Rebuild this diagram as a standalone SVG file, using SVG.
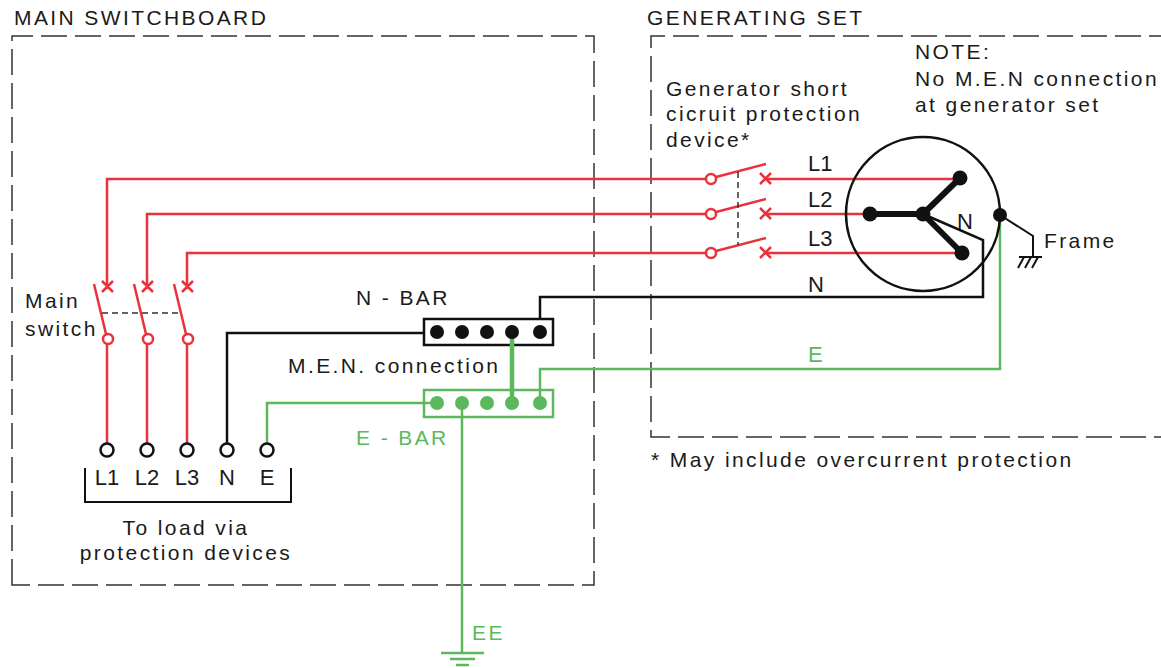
<svg xmlns="http://www.w3.org/2000/svg" width="1161" height="668" viewBox="0 0 1161 668">
<style>
text{font-family:"Liberation Sans",Arial,sans-serif;font-size:21px;letter-spacing:2.4px;fill:#1a1a1a}
.g{fill:#5cb85c}
.n{letter-spacing:0;font-size:22px}
.box{fill:none;stroke:#333;stroke-width:1.5;stroke-dasharray:26 8}
.r{fill:none;stroke:#e8323c;stroke-width:2.5}
.k{fill:none;stroke:#111;stroke-width:2.5}
.gr{fill:none;stroke:#5cb85c;stroke-width:2.5}
.oc{fill:#fff;stroke:#e8323c;stroke-width:2.5}
.tc{fill:#fff;stroke:#111;stroke-width:2.5}
.dash{fill:none;stroke:#333;stroke-width:1.5;stroke-dasharray:6 4}
</style>
<rect width="1161" height="668" fill="#fff"/>
<g id="main-switchboard">
<path class="box" d="M12 585 V36 H594 V585 Z"/>
<text x="14" y="25">MAIN SWITCHBOARD</text>
</g>
<g id="generating-set">
<path class="box" d="M1175 36 H651 V437 H1175"/>
<text x="647" y="25">GENERATING SET</text>
<text x="915" y="59">NOTE:</text>
<text x="915" y="86">No M.E.N connection</text>
<text x="915" y="112">at generator set</text>
</g>
<g id="connectors">
<path class="r" d="M107 287 V179 H706"/>
<path class="r" d="M147 287 V214 H706"/>
<path class="r" d="M187 287 V253 H706"/>
<path class="r" d="M107 344 V444 M147 344 V444 M187 344 V444"/>
<path class="r" d="M765 179 H960 M765 214 H870 M765 253 H962"/>
<path class="k" d="M227 444 V333 H437"/>
<path class="k" d="M540 332 V297 H983 V240 L923 214"/>
<path class="gr" d="M267 444 V403 H437"/>
<path class="gr" d="M540 403 V369 H1000 V215"/>
<path class="gr" d="M462 403 V653"/>
<path class="gr" d="M441 653 H484 M450 659 H475 M456 665 H469"/>
<path class="k" style="stroke-width:2" d="M1000 215 L1033 236 V257 M1019 257 H1042 M1024 257 L1018 268 M1031 257 L1025 268 M1038 257 L1032 268"/>
</g>
<g id="main-switch">
<path class="r" d="M94 284 L106 334 M134 284 L146 334 M174 284 L186 334"/>
<path class="r" d="M102 281 L113 292 M113 281 L102 292 M142 281 L153 292 M153 281 L142 292 M182 281 L193 292 M193 281 L182 292"/>
<circle class="oc" cx="108" cy="339" r="5"/>
<circle class="oc" cx="148" cy="339" r="5"/>
<circle class="oc" cx="188" cy="339" r="5"/>
<path class="dash" d="M102 313 H182"/>
<text x="25" y="308">Main</text>
<text x="25" y="336">switch</text>
</g>
<g id="terminals">
<circle class="tc" cx="107" cy="450" r="6.5"/>
<circle class="tc" cx="147" cy="450" r="6.5"/>
<circle class="tc" cx="187" cy="450" r="6.5"/>
<circle class="tc" cx="227" cy="450" r="6.5"/>
<circle class="tc" cx="267" cy="450" r="6.5"/>
<text class="n" x="107" y="485" text-anchor="middle">L1</text>
<text class="n" x="147" y="485" text-anchor="middle">L2</text>
<text class="n" x="187" y="485" text-anchor="middle">L3</text>
<text class="n" x="227" y="485" text-anchor="middle">N</text>
<text class="n" x="267" y="485" text-anchor="middle">E</text>
<path class="k" style="stroke-width:2" d="M85 468 V502 H291 V468"/>
<text x="186" y="535" text-anchor="middle">To load via</text>
<text x="186" y="560" text-anchor="middle">protection devices</text>
</g>
<g id="men-connection">
<rect x="424" y="319" width="129" height="26" fill="#fff" stroke="#111" stroke-width="2.5"/>
<path fill="none" stroke="#5cb85c" stroke-width="4.5" d="M512 332 V403"/>
<text x="288" y="373">M.E.N. connection</text>
</g>
<g id="n-bar">
<circle cx="437" cy="332" r="7" fill="#111"/>
<circle cx="462" cy="332" r="7" fill="#111"/>
<circle cx="487" cy="332" r="7" fill="#111"/>
<circle cx="512" cy="332" r="7" fill="#111"/>
<circle cx="540" cy="332" r="7" fill="#111"/>
<text x="356" y="305">N - BAR</text>
</g>
<g id="e-bar">
<rect x="424" y="390" width="129" height="27" fill="none" stroke="#5cb85c" stroke-width="2.5"/>
<circle cx="437" cy="403" r="7" fill="#5cb85c"/>
<circle cx="462" cy="403" r="7" fill="#5cb85c"/>
<circle cx="487" cy="403" r="7" fill="#5cb85c"/>
<circle cx="512" cy="403" r="7" fill="#5cb85c"/>
<circle cx="540" cy="403" r="7" fill="#5cb85c"/>
<text class="g" x="356" y="445">E - BAR</text>
</g>
<g id="ee">
<text class="g" x="472" y="640">EE</text>
</g>
<g id="gen-protection">
<path class="r" d="M716 177 L766 164 M716 212 L766 199 M716 251 L766 238"/>
<circle class="oc" cx="711" cy="179" r="5"/>
<circle class="oc" cx="711" cy="214" r="5"/>
<circle class="oc" cx="711" cy="253" r="5"/>
<path class="r" d="M760 173 L771 184 M771 173 L760 184 M760 208 L771 219 M771 208 L760 219 M760 247 L771 258 M771 247 L760 258"/>
<path class="dash" d="M738 172 V245"/>
<text x="666" y="96">Generator short</text>
<text x="666" y="121">cicruit protection</text>
<text x="666" y="147">device*</text>
<text x="651" y="467">* May include overcurrent protection</text>
</g>
<g id="generator">
<circle cx="923" cy="214" r="77" fill="none" stroke="#111" stroke-width="2.5"/>
<path d="M923 214 L960 178 M923 214 H870 M923 214 L962 253" stroke="#111" stroke-width="6" fill="none"/>
<circle cx="960" cy="178" r="7.5" fill="#111"/>
<circle cx="870" cy="214" r="7.5" fill="#111"/>
<circle cx="962" cy="253" r="7.5" fill="#111"/>
<circle cx="923" cy="214" r="7.5" fill="#111"/>
<circle cx="1000" cy="215" r="7" fill="#111"/>
<text class="n" x="957" y="229">N</text>
<text class="n" x="808" y="171">L1</text>
<text class="n" x="808" y="207">L2</text>
<text class="n" x="808" y="246">L3</text>
<text class="n" x="808" y="292">N</text>
<text class="n g" x="808" y="362">E</text>
<text x="1044" y="248">Frame</text>
</g>
</svg>
